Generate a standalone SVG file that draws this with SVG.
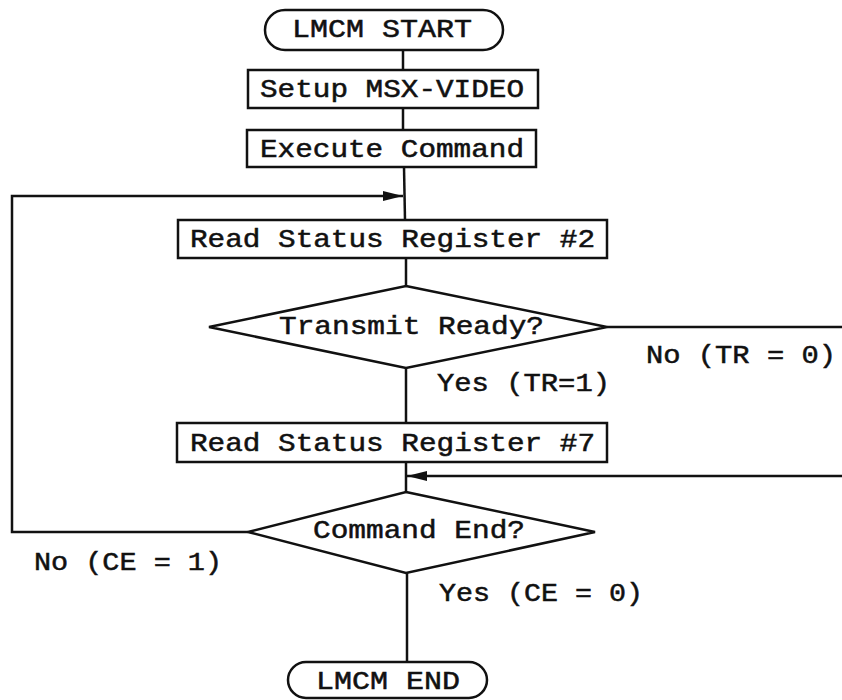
<svg xmlns="http://www.w3.org/2000/svg" width="842" height="700" viewBox="0 0 842 700">
<style>
.s{fill:#fff;stroke:#111;stroke-width:2.5}
.c{fill:none;stroke:#111;stroke-width:2.5}
.t{font-family:"Liberation Mono","Courier New",monospace;font-size:25px;fill:#111;stroke:#111;stroke-width:0.5}
</style>
<defs>
<marker id="ah" viewBox="0 0 20 12" refX="20" refY="6" markerWidth="20" markerHeight="12" markerUnits="userSpaceOnUse" orient="auto">
<path d="M0,1 L20,6 L0,11 Z" fill="#111"/>
</marker>
</defs>
<rect width="842" height="700" fill="#fff"/>
<g id="connectors">
<line class="c" x1="403" y1="50" x2="403" y2="70"/>
<line class="c" x1="403" y1="108" x2="403" y2="130"/>
<line class="c" x1="404" y1="167" x2="405" y2="220"/>
<line class="c" x1="406" y1="258" x2="406" y2="286"/>
<line class="c" x1="607" y1="327" x2="842" y2="327"/>
<line class="c" x1="406" y1="368" x2="406" y2="423"/>
<line class="c" x1="406" y1="462" x2="406" y2="492"/>
<line class="c" x1="842" y1="476" x2="407" y2="476" marker-end="url(#ah)"/>
<polyline class="c" points="248,532 12,532 12,196 403,196" marker-end="url(#ah)"/>
<line class="c" x1="407" y1="573" x2="407" y2="662"/>
<text class="t" x="646" y="363" textLength="190" lengthAdjust="spacingAndGlyphs">No (TR = 0)</text>
<text class="t" x="437" y="391" textLength="173" lengthAdjust="spacingAndGlyphs">Yes (TR=1)</text>
<text class="t" x="34" y="570" textLength="188" lengthAdjust="spacingAndGlyphs">No (CE = 1)</text>
<text class="t" x="439" y="601" textLength="204" lengthAdjust="spacingAndGlyphs">Yes (CE = 0)</text>
</g>
<g id="start">
<rect class="s" x="265" y="10" width="238" height="40" rx="20"/>
<text class="t" x="292" y="37" textLength="180" lengthAdjust="spacingAndGlyphs">LMCM START</text>
</g>
<g id="setup">
<rect class="s" x="248" y="70" width="290" height="38"/>
<text class="t" x="260" y="97" textLength="264" lengthAdjust="spacingAndGlyphs">Setup MSX-VIDEO</text>
</g>
<g id="execute">
<rect class="s" x="247" y="130" width="289" height="37"/>
<text class="t" x="260" y="157" textLength="264" lengthAdjust="spacingAndGlyphs">Execute Command</text>
</g>
<g id="read2">
<rect class="s" x="178" y="220" width="429" height="38"/>
<text class="t" x="190" y="247" textLength="405" lengthAdjust="spacingAndGlyphs">Read Status Register #2</text>
</g>
<g id="transmit">
<polygon class="s" points="406,286 607,327 406,368 209,327"/>
<text class="t" x="279" y="334" textLength="265" lengthAdjust="spacingAndGlyphs">Transmit Ready?</text>
</g>
<g id="read7">
<rect class="s" x="177" y="423" width="430" height="39"/>
<text class="t" x="190" y="451" textLength="405" lengthAdjust="spacingAndGlyphs">Read Status Register #7</text>
</g>
<g id="cmdend">
<polygon class="s" points="406,492 595,532 406,573 248,532"/>
<text class="t" x="313" y="538" textLength="212" lengthAdjust="spacingAndGlyphs">Command End?</text>
</g>
<g id="end">
<rect class="s" x="288" y="662" width="199" height="36" rx="18"/>
<text class="t" x="316" y="689" textLength="144" lengthAdjust="spacingAndGlyphs">LMCM END</text>
</g>
</svg>
